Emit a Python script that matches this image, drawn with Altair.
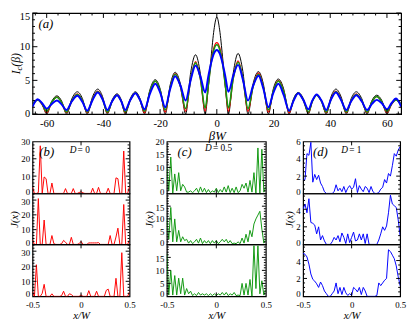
import altair as alt
import pandas as pd

FONT = "Liberation Serif"

# ---------------- panel (a): Ic(beta) ----------------
beta = [-65, -63.2, -61.6, -60, -58.2, -56.4, -54.7, -53, -51.1, -49.2, -47.4, -45.7, -43.8, -42, -40.3,
        -38.6, -36.9, -35.2, -33.7, -32.3, -30.5, -28.7, -27.1, -25.5, -23.6, -21.7, -19.9, -18.2, -16.4,
        -14.7, -12.8, -11, -9.2, -7.5, -5.8, -4.1, -3, -2, -1, 0,
        1, 2, 3, 4.1, 5.8, 7.5, 9.2, 11, 12.8, 14.7, 16.4, 18.2, 19.9, 21.7, 23.6, 25.5, 27.1, 28.7, 30.5,
        32.3, 33.7, 35.2, 36.9, 38.6, 40.3, 42, 43.8, 45.7, 47.4, 49.2, 51.1, 53, 54.7, 56.4, 58.2, 60,
        61.6, 63.2, 65]

ic_black = [1.6, 2.1, 1.4, 0, 1.9, 2.7, 1.9, 0, 2.3, 3.3, 2.3, 0, 2.6, 3.7, 2.6, 0, 2.1, 3.0, 2.1, 0,
            2.3, 3.3, 2.3, 0, 3.6, 5.1, 3.6, 0, 4.4, 6.2, 4.4, 0, 6.2, 8.8, 6.0, 0, 4.0, 8.5, 12.5, 14.4,
            12.5, 8.6, 4.1, 0, 6.1, 9.0, 6.3, 0, 4.5, 6.3, 4.5, 0, 3.7, 5.2, 3.7, 0, 2.3, 3.2, 2.3, 0,
            2.0, 2.8, 2.0, 0, 2.6, 3.7, 2.6, 0, 2.3, 3.3, 2.3, 0, 2.0, 2.8, 2.0, 0, 1.5, 2.2, 1.5]
ic_red = [1.3, 2.1, 1.4, 0.2, 1.7, 2.5, 1.7, 0.2, 2.0, 3.0, 2.0, 0.2, 2.3, 3.4, 2.3, 0.2, 1.9, 2.8, 1.9, 0.2,
          2.1, 3.1, 2.1, 0.2, 3.3, 4.9, 3.3, 0.3, 4.0, 6.0, 4.0, 0.4, 5.2, 7.8, 5.2, 0.4, 4.2, 7.8, 9.9, 10.6,
          9.9, 7.8, 4.2, 0.4, 5.3, 7.9, 5.3, 0.4, 4.1, 6.1, 4.1, 0.3, 3.4, 5.0, 3.4, 0.2, 2.1, 3.1, 2.1, 0.2,
          1.9, 2.8, 1.9, 0.2, 2.3, 3.4, 2.3, 0.2, 2.0, 3.0, 2.0, 0.2, 1.8, 2.6, 1.8, 0.2, 1.4, 2.1, 1.3]
ic_green = [1.3, 2.1, 1.5, 0.4, 1.8, 2.5, 1.7, 0.3, 2.0, 2.9, 2.0, 0.3, 2.2, 3.3, 2.2, 0.3, 1.9, 2.8, 1.9, 0.3,
            2.1, 3.1, 2.1, 0.4, 3.3, 4.9, 3.4, 0.6, 4.0, 5.9, 4.1, 0.8, 5.2, 7.6, 5.3, 0.9, 4.3, 7.6, 9.6, 10.3,
            9.6, 7.6, 4.3, 0.9, 5.3, 7.7, 5.3, 0.8, 4.1, 5.9, 4.0, 0.6, 3.4, 4.9, 3.3, 0.4, 2.1, 3.1, 2.1, 0.3,
            1.9, 2.8, 1.9, 0.3, 2.2, 3.3, 2.2, 0.3, 2.0, 2.9, 2.0, 0.3, 1.8, 2.6, 1.8, 0.4, 1.5, 2.1, 1.3]
ic_blue = [1.1, 2.2, 1.6, 0.8, 1.5, 2.0, 1.4, 0.6, 1.9, 2.7, 1.8, 0.5, 2.1, 3.2, 2.2, 0.6, 1.9, 2.8, 1.9, 0.6,
           2.1, 3.1, 2.1, 0.7, 3.0, 4.5, 3.1, 1.0, 3.8, 5.6, 4.2, 2.0, 5.1, 7.2, 5.6, 3.2, 5.6, 7.6, 9.0, 9.5,
           9.0, 7.6, 5.6, 3.3, 5.7, 7.3, 5.1, 2.0, 4.2, 5.7, 3.8, 1.0, 3.1, 4.5, 2.8, 0.5, 2.0, 3.1, 2.1, 0.7,
           2.0, 2.9, 2.0, 0.6, 2.2, 3.2, 2.1, 0.6, 1.9, 2.8, 1.9, 0.6, 1.5, 2.1, 1.6, 0.7, 1.6, 2.3, 1.1]

top_xlabels = [-60, -40, -20, 0, 20, 40, 60]
top_xminor = [-64, -56, -52, -48, -44, -36, -32, -28, -24, -16, -12, -8, -4,
              4, 8, 12, 16, 24, 28, 32, 36, 44, 48, 52, 56, 64]
top_ylabels = [0, 5, 10, 15]
top_yminor = [1, 2, 3, 4, 6, 7, 8, 9, 11, 12, 13, 14]

# ---------------- panels (b)-(d): J(x) ----------------
xw = [-0.5, -0.48, -0.46, -0.44, -0.42, -0.4, -0.38, -0.36, -0.34, -0.32, -0.3, -0.28, -0.26, -0.24,
      -0.22, -0.2, -0.18, -0.16, -0.14, -0.12, -0.1, -0.08, -0.06, -0.04, -0.02, 0.0, 0.02, 0.04, 0.06,
      0.08, 0.1, 0.12, 0.14, 0.16, 0.18, 0.2, 0.22, 0.24, 0.26, 0.28, 0.3, 0.32, 0.34, 0.36, 0.38, 0.4,
      0.42, 0.44, 0.46, 0.48, 0.5]

j_b1 = [3.5, 0, 0, 0.5, 27.5, 0, 9.5, 8.5, 0, 0, 6, 0, 0, 0, 0, 0, 0, 2.8, 0, 0, 0, 2.8, 0, 0, 0.5, 1.0,
        0.3, 0, 0, 0, 0, 3, 0, 0, 3.5, 0, 0, 0, 0, 3, 0, 0, 0, 9, 8.5, 0, 0, 24.5, 0, 0, 4]
j_b2 = [3, 0, 0, 31, 0, 0, 16.5, 0, 0, 0, 6, 0.5, 0, 0, 0, 0.5, 2.7, 1.5, 0, 0, 4.8, 0, 0, 0, 0.5, 2,
        0, 0, 0, 1, 1, 1, 1, 1, 1.2, 0, 0, 0, 0, 0, 6, 0, 0, 5, 11, 0, 0, 27, 0, 0, 3]
j_b3 = [3, 0, 21, 0, 0, 2, 8, 0, 0, 0, 1.7, 0, 0, 0, 0, 0.5, 3.4, 0, 0, 1.7, 1.2, 0, 0, 0, 0, 1,
        0, 0, 0, 3.8, 0, 0, 0, 3.4, 0, 0, 0, 0, 4, 4.8, 0, 0, 0, 12, 0, 0, 29, 0, 0, 0, 3]

j_c1 = [10, 1, 14, 0, 7.5, 1, 8, 1, 3.5, 2.5, 0.5, 0.5, 1, 0.3, 1, 2, 0.3, 2.5, 0.5, 2, 0.3, 1.5, 0.3,
        1, 0.5, 2, 0.3, 1.5, 0.5, 2.5, 0.5, 3, 0.3, 2, 0.3, 2.5, 0.3, 1, 3.5, 2, 4, 0.5, 5, 0.5, 8, 0,
        17.5, 0, 17, 0.5, 2.5]
j_c2 = [10, 2, 14.5, 1, 10, 1, 5.5, 1, 3, 1.5, 2, 0.5, 1.5, 0.3, 1, 2, 0.5, 2.5, 0.3, 1.5, 0.5, 1.5,
        0.3, 1.5, 0.5, 1.5, 0.3, 1, 2, 1, 2, 0.5, 1.5, 0.3, 0.5, 0.3, 1, 0.3, 2.5, 0.5, 4, 1, 5.5, 3, 8,
        10, 11.5, 13, 6, 0.5, 2]
j_c3 = [16.5, 0.5, 10, 0.5, 8, 0.5, 7, 1, 7, 0.5, 3, 1, 2, 0.3, 1, 0.3, 1.5, 0.5, 1, 0.5, 1, 0.3, 1,
        0.3, 1, 0.3, 1, 0.5, 1.5, 0.5, 1.5, 0.3, 1, 0.5, 1.5, 0.3, 0.5, 0.3, 5, 0.5, 5, 0.5, 6.5, 0,
        19.5, 3, 19.5, 1, 6, 0.5, 2.5]

j_d1 = [1.5, 1.6, 4.6, 4.4, 5.9, 1.3, 2.2, 1.6, 2.1, 1.2, 0.8, 0.2, 0, 0, 0, 0, 0.2, 1.0, 0.3, 0.6,
        0.2, 0.8, 0.1, 0.6, 0.9, 0.5, 0.7, 1.7, 0.1, 0.9, 0.5, 0.2, 0.8, 0.6, 0.1, 0.8, 0.2, 0, 0, 0.1,
        0.5, 0.7, 1.6, 1.2, 2.3, 2.0, 3.2, 4.6, 4.3, 5.0, 5.4]
j_d2 = [4.0, 4.6, 3.6, 5.2, 2.5, 2.4, 2.2, 1.2, 2.0, 0.5, 1.0, 0.4, 0, 0, 0, 0.3, 0.8, 0.5, 1.0, 0.3,
        1.3, 0.8, 0.1, 1.2, 0.2, 0.8, 1.4, 0.4, 0.5, 1.2, 0.5, 1.2, 0.1, 1.2, 0, 0, 0, 0, 0, 0.5, 1.2,
        2.0, 1.6, 2.1, 3.6, 5.6, 4.6, 4.4, 4.2, 2.8, 1.0]
j_d3 = [4.8, 4.7, 4.4, 3.6, 2.5, 1.9, 1.7, 1.4, 1.0, 1.6, 1.2, 0.6, 0.3, 0, 0, 0.3, 0.6, 1.5, 0.3, 1.0,
        0.2, 1.0, 0.4, 0.1, 0.3, 0.1, 1.0, 0.8, 0.5, 1.0, 0.2, 1.0, 0.6, 0, 0, 0, 0, 0, 0.1, 1.5, 1.2,
        1.5, 1.8, 2.0, 5.2, 5.0, 4.6, 4.2, 3.4, 2.2, 1.2]

RED, GREEN, BLUE = "#ff0000", "#119911", "#0000ff"


def txt(t, x, y, size, style="normal", align="left", baseline="middle", angle=0):
    return alt.Chart(pd.DataFrame({"t": [t]})).mark_text(
        font=FONT, fontSize=size, fontStyle=style, align=align, baseline=baseline,
        angle=angle, color="black").encode(x=alt.value(x), y=alt.value(y), text="t:N")


def build(lines, xsc, ysc, xax, yax, w, h, xmaj, xmin, ymaj, ymin, lmaj, lmin, texts, interp):
    layers = []
    for xs_, ys_, color, sw in lines:
        d = pd.DataFrame({"x": xs_, "y": ys_})
        layers.append(alt.Chart(d).mark_line(color=color, strokeWidth=sw, clip=True,
                                             interpolate=interp).encode(
            x=alt.X("x:Q", scale=xsc, axis=xax), y=alt.Y("y:Q", scale=ysc, axis=yax)))
    for vals, ln in ((xmaj, lmaj), (xmin, lmin)):
        if vals:
            d = pd.DataFrame({"x": vals})
            for y0, y1 in ((h, h - ln), (0, ln)):
                layers.append(alt.Chart(d).mark_rule(color="black", strokeWidth=1).encode(
                    x=alt.X("x:Q", scale=xsc, axis=xax), y=alt.value(y0), y2=alt.value(y1)))
    for vals, ln in ((ymaj, lmaj), (ymin, lmin)):
        if vals:
            d = pd.DataFrame({"y": vals})
            for x0, x1 in ((0, ln), (w, w - ln)):
                layers.append(alt.Chart(d).mark_rule(color="black", strokeWidth=1).encode(
                    y=alt.Y("y:Q", scale=ysc, axis=yax), x=alt.value(x0), x2=alt.value(x1)))
    layers += texts
    return alt.layer(*layers).properties(width=w, height=h)


# ---- top panel ----
TW, TH = 376, 103
top_xs = alt.Scale(domain=[-65, 65], nice=False, zero=False)
top_ys = alt.Scale(domain=[0, 15], nice=False)
top_xax = alt.Axis(values=top_xlabels, labelExpr="datum.value + ''", title="βW",
                   titleFont=FONT, titleFontStyle="italic", titleFontWeight="normal", titleFontSize=13,
                   titleColor="black", titlePadding=1, labelFont=FONT, labelFontSize=11,
                   labelColor="black", labelPadding=4, labelFlush=False, ticks=False, domain=False,
                   grid=False)
top_yax = alt.Axis(values=top_ylabels, title="", labelFont=FONT, labelFontSize=10.5, labelColor="black",
                   labelPadding=3, ticks=False, domain=False, grid=False,
                   labelOffset={"condition": {"test": "datum.value == 15", "value": 4}, "value": 0})
top_texts = [
    txt("(a)", 6, 11, 13, "italic"),
    txt("I", -13, 62.5, 12, "italic", angle=270, baseline="alphabetic"),
    txt("c", -10.5, 58.5, 8.5, "italic", angle=270, baseline="alphabetic"),
    txt("(β)", -13, 54.7, 12, "italic", angle=270, baseline="alphabetic"),
]
top = build([(beta, ic_black, "black", 1), (beta, ic_red, RED, 1.3), (beta, ic_green, GREEN, 1.6),
             (beta, ic_blue, BLUE, 2)],
            top_xs, top_ys, top_xax, top_yax, TW, TH,
            top_xlabels, top_xminor, top_ylabels, top_yminor, 5, 2.5, top_texts, "monotone")

# ---- bottom panels ----
bx = alt.Scale(domain=[-0.5, 0.5], nice=False, zero=False)
bot_xax = alt.Axis(values=[-0.5, 0, 0.5], labelExpr="datum.value + ''", title="x/W",
                   titleFont=FONT, titleFontStyle="italic", titleFontWeight="normal", titleFontSize=11,
                   titleColor="black", titlePadding=1, labelFont=FONT, labelFontSize=9,
                   labelColor="black", labelPadding=4, labelFlush=False, ticks=False, domain=False,
                   grid=False)


def yax(vals, title, topval, zero_off):
    return alt.Axis(values=vals, title=title, titleFont=FONT, titleFontStyle="italic",
                    titleFontWeight="normal", titleFontSize=11, titleColor="black", titlePadding=1,
                    labelFont=FONT, labelFontSize=9, labelColor="black", labelPadding=3,
                    ticks=False, domain=False, grid=False, labelOverlap=False,
                    labelOffset={"condition": [{"test": "datum.value == 0", "value": zero_off},
                                               {"test": "datum.value == " + str(topval), "value": 1.5}],
                                 "value": 0})


def column(series, color, doms, labs, ymajs, ymins, w, heights, tag, dlabel, tagpos, dpos):
    subs = []
    for i in range(3):
        ys = alt.Scale(domain=doms[i], nice=False, zero=False)
        xa = bot_xax if i == 2 else None
        title = "J(x)" if i == 1 else ""
        topval = labs[i][-1] if i > 0 else -999
        zero_off = -3 if i == 2 else -1.5
        texts = []
        if i == 0:
            texts = [txt(tag, tagpos[0], tagpos[1], 13, "italic"),
                     txt("D", dpos[0], dpos[1], 9.5, "italic"),
                     txt("= " + dlabel, dpos[0] + 8, dpos[1], 9.5)]
        subs.append(build([(xw, series[i], color, 1)], bx, ys, xa, yax(labs[i], title, topval, zero_off),
                          w, heights[i], [0], [], ymajs[i], ymins[i], 4, 2, texts, "linear"))
    return subs


H3 = [53, 52, 53]
colb = column([j_b1, j_b2, j_b3], RED, [[0, 30], [0, 34.5], [0, 34.5]],
              [[0, 10, 20, 30]] * 3, [[10, 20], [10, 20, 30], [10, 20, 30]],
              [[2, 4, 6, 8, 12, 14, 16, 18, 22, 24, 26, 28],
               [2, 4, 6, 8, 12, 14, 16, 18, 22, 24, 26, 28, 32, 34],
               [2, 4, 6, 8, 12, 14, 16, 18, 22, 24, 26, 28, 32, 34]],
              99, H3, "(b)", "0", (7, 11), (38, 8.5))
colc = column([j_c1, j_c2, j_c3], GREEN, [[0, 20], [0, 20], [0, 20]],
              [[0, 5, 10, 15, 20], [0, 5, 10, 15], [0, 5, 10, 15]],
              [[5, 10, 15]] * 3,
              [[1, 2, 3, 4, 6, 7, 8, 9, 11, 12, 13, 14, 16, 17, 18, 19]] * 3,
              101, H3, "(c)", "0.5", (11, 11), (39, 6.5))
cold = column([j_d1, j_d2, j_d3], BLUE, [[0, 6], [0, 5.8], [0, 5.8]],
              [[0, 2, 4, 6], [0, 2, 4], [0, 2, 4]],
              [[2, 4], [2, 4], [2, 4]],
              [[0.5, 1, 1.5, 2.5, 3, 3.5, 4.5, 5, 5.5]] * 3,
              99, H3, "(d)", "1", (10, 11), (39, 9))

cells = []
for i in range(3):
    cells += [colb[i], colc[i], cold[i]]
grid = alt.concat(*cells, columns=3, spacing=alt.RowColnumber(row=0, column=38), bounds="flush")

chart = alt.vconcat(top, grid, spacing=28, bounds="flush").properties(
    padding={"left": 0, "top": 0, "right": 0, "bottom": -3}
).configure_view(stroke="black", strokeWidth=1.2)

chart.save("out.html", embed_options={"renderer": "svg", "actions": False})
